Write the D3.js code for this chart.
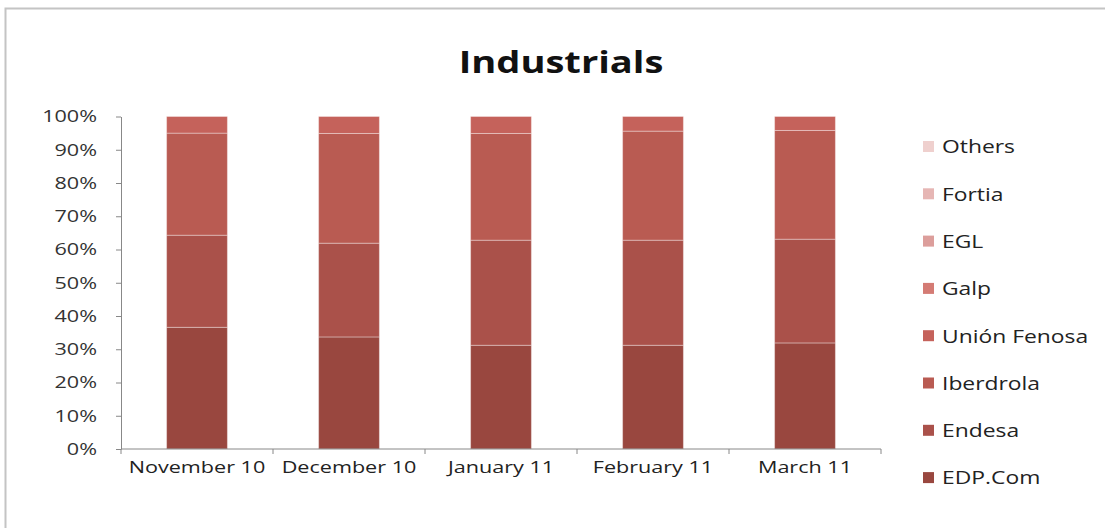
<!DOCTYPE html>
<html>
<head>
<meta charset="utf-8">
<script src="https://cdn.jsdelivr.net/npm/d3@7"></script>
<style>
    body { margin: 0; background: #fff; }
    svg { display: block; font-family: 'Open Sans', sans-serif; }
</style>
</head>
<body>
<svg id="chart" width="1105" height="528"></svg>
<script>
const months = ['November 10', 'December 10', 'January 11', 'February 11', 'March 11'];
const seriesNames = ['EDP.Com', 'Endesa', 'Iberdrola', 'Unión Fenosa', 'Galp', 'EGL', 'Fortia', 'Others'];
const edpCom = [36.6, 33.7, 31.2, 31.2, 31.9];
const endesa = [27.7, 28.2, 31.6, 31.6, 31.2];
const iberdrola = [30.7, 33.0, 32.1, 32.8, 32.7];
const unionFenosa = [5.0, 5.1, 5.1, 4.4, 4.2];
const galp = [0, 0, 0, 0, 0];
const egl = [0, 0, 0, 0, 0];
const fortia = [0, 0, 0, 0, 0];
const others = [0, 0, 0, 0, 0];
const yTicks = [0, 10, 20, 30, 40, 50, 60, 70, 80, 90, 100];

const colors = ['#99473f', '#aa514a', '#b95b52', '#c5625b', '#d47b74', '#dc9e9b', '#e6b6b4', '#efd0ce'];

// the reference text is a little wide, so stretch it sideways
const stretch = 1.27;

const svg = d3.select('#chart');
const margin = { top: 116.5, left: 121, right: 224, bottom: 79 };
const width = 1105 - margin.left - margin.right;
const height = 528 - margin.top - margin.bottom;

// outer frame
svg.append('rect')
    .attr('x', 5.5).attr('y', 8.5)
    .attr('width', 1110).attr('height', 540)
    .attr('fill', '#fff')
    .attr('stroke', '#c4c4c4')
    .attr('stroke-width', 2);

svg.append('text')
    .attr('transform', `translate(561,73) scale(${stretch},1)`)
    .attr('text-anchor', 'middle')
    .style('font-size', '30px')
    .style('font-weight', '700')
    .style('fill', '#111')
    .text('Industrials');

const g = svg.append('g').attr('transform', `translate(${margin.left},${margin.top})`);

const rows = months.map((m, i) => ({
    month: m,
    'EDP.Com': edpCom[i], 'Endesa': endesa[i], 'Iberdrola': iberdrola[i], 'Unión Fenosa': unionFenosa[i],
    'Galp': galp[i], 'EGL': egl[i], 'Fortia': fortia[i], 'Others': others[i]
}));

const stack = d3.stack().keys(seriesNames);
const stacked = stack(rows);

const x = d3.scaleBand()
    .domain(months)
    .range([0, width])
    .paddingInner(0.6)
    .paddingOuter(0.3);

const y = d3.scaleLinear()
    .domain([0, 100])
    .range([height, 0]);

const color = d3.scaleOrdinal().domain(seriesNames).range(colors);

g.selectAll('.series')
    .data(stacked)
    .enter().append('g')
    .attr('class', 'series')
    .attr('fill', d => color(d.key))
    .selectAll('rect')
    .data(d => d.filter(p => p[1] - p[0] > 0))
    .enter().append('rect')
    .attr('x', d => x(d.data.month))
    .attr('width', x.bandwidth())
    .attr('y', d => y(d[1]))
    .attr('height', d => y(d[0]) - y(d[1]))
    .attr('stroke', 'rgba(255,255,255,0.35)')
    .attr('stroke-width', 1);

// y axis
const yAxis = g.append('g')
    .call(d3.axisLeft(y).tickValues(yTicks).tickFormat(d => d + '%').tickSize(5).tickSizeOuter(0));
yAxis.select('.domain').attr('stroke', '#888');
yAxis.selectAll('.tick line').attr('stroke', '#888');
yAxis.selectAll('text')
    .attr('x', -24 / stretch)
    .attr('transform', `scale(${stretch},1)`)
    .style('font-size', '17px')
    .style('fill', '#333')
    .style('font-family', "'Open Sans', sans-serif");

// x axis with ticks between categories
const step = x.step();
const xAxis = g.append('g').attr('transform', `translate(0,${height})`);
xAxis.append('line')
    .attr('x1', 0).attr('x2', width)
    .attr('stroke', '#888');
xAxis.selectAll('.sep')
    .data(d3.range(months.length + 1))
    .enter().append('line')
    .attr('x1', i => i * step).attr('x2', i => i * step)
    .attr('y1', 0).attr('y2', 5)
    .attr('stroke', '#888');
xAxis.selectAll('.lbl')
    .data(months)
    .enter().append('text')
    .attr('transform', d => `translate(${x(d) + x.bandwidth() / 2},24) scale(${stretch},1)`)
    .attr('text-anchor', 'middle')
    .style('font-size', '17px')
    .style('fill', '#222')
    .text(d => d);

// legend (reverse order)
const legend = svg.append('g');
const legendItems = seriesNames.slice().reverse();
legendItems.forEach((name, i) => {
    const ly = 147 + i * 47.3;
    legend.append('rect')
        .attr('x', 923).attr('y', ly - 6)
        .attr('width', 11).attr('height', 11)
        .attr('fill', color(name));
    legend.append('text')
        .attr('transform', `translate(942,${ly}) scale(${stretch},1)`)
        .attr('dy', '0.35em')
        .style('font-size', '18px')
        .style('fill', '#222')
        .text(name);
});
</script>
</body>
</html>
